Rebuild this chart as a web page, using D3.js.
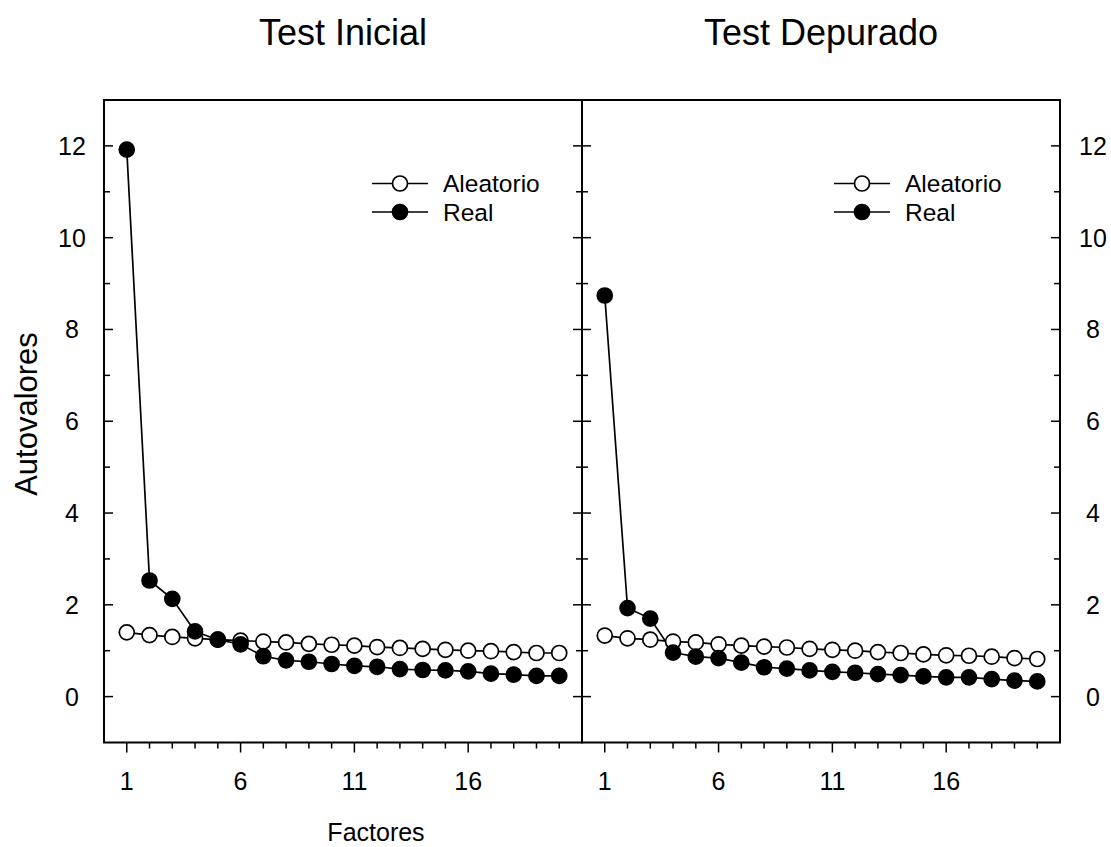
<!DOCTYPE html>
<html>
<head>
<meta charset="utf-8">
<script src="https://cdn.jsdelivr.net/npm/d3@7"></script>
<style>
  body { margin: 0; background: #fff; }
  svg text { font-family: "Liberation Sans", Arial, sans-serif; fill: #000; }
</style>
</head>
<body>
<svg width="1111" height="847"></svg>
<script>
const factors = [1, 2, 3, 4, 5, 6, 7, 8, 9, 10, 11, 12, 13, 14, 15, 16, 17, 18, 19, 20];

const inicialAleatorio = [1.40, 1.34, 1.30, 1.27, 1.24, 1.22, 1.20, 1.18, 1.15, 1.13, 1.11, 1.08, 1.06, 1.04, 1.02, 1.00, 0.99, 0.97, 0.95, 0.95];
const inicialReal = [11.92, 2.53, 2.13, 1.42, 1.24, 1.14, 0.88, 0.79, 0.76, 0.71, 0.67, 0.65, 0.60, 0.58, 0.57, 0.55, 0.50, 0.48, 0.45, 0.45];

const depuradoAleatorio = [1.33, 1.27, 1.24, 1.20, 1.18, 1.14, 1.11, 1.09, 1.07, 1.04, 1.02, 1.00, 0.97, 0.95, 0.92, 0.90, 0.89, 0.87, 0.84, 0.82];
const depuradoReal = [8.74, 1.93, 1.70, 0.96, 0.87, 0.84, 0.74, 0.64, 0.61, 0.57, 0.54, 0.52, 0.49, 0.47, 0.44, 0.42, 0.42, 0.38, 0.35, 0.33];

const titles = ["Test Inicial", "Test Depurado"];
const seriesNames = ["Aleatorio", "Real"];
const yMajorTicks = [0, 2, 4, 6, 8, 10, 12];
const yMinorTicks = [1, 3, 5, 7, 9, 11];
const xMajorTicks = [1, 6, 11, 16];

const svg = d3.select("svg");
const plotTop = 100, plotBottom = 742.5;
const panelW = 478;
const panels = [
  { x0: 104, title: titles[0], aleatorio: inicialAleatorio, real: inicialReal, side: "left", legendX: 372 },
  { x0: 582, title: titles[1], aleatorio: depuradoAleatorio, real: depuradoReal, side: "right", legendX: 834 }
];

const y = d3.scaleLinear().domain([-1, 13]).range([plotBottom, plotTop]);

panels.forEach(p => {
  const x = d3.scaleLinear().domain([0, 21]).range([p.x0, p.x0 + panelW]);
  const g = svg.append("g");

  // frame
  g.append("rect")
    .attr("x", p.x0).attr("y", plotTop)
    .attr("width", panelW).attr("height", plotBottom - plotTop)
    .attr("fill", "none").attr("stroke", "#000").attr("stroke-width", 2);

  // y ticks, inward on both sides
  [p.x0, p.x0 + panelW].forEach((xe, i) => {
    const dir = i === 0 ? 1 : -1;
    g.selectAll(null).data(yMajorTicks).enter().append("line")
      .attr("x1", xe).attr("x2", xe + dir * 9)
      .attr("y1", d => y(d)).attr("y2", d => y(d))
      .attr("stroke", "#000").attr("stroke-width", 1.5);
    g.selectAll(null).data(yMinorTicks).enter().append("line")
      .attr("x1", xe).attr("x2", xe + dir * 6)
      .attr("y1", d => y(d)).attr("y2", d => y(d))
      .attr("stroke", "#000").attr("stroke-width", 1.5);
  });

  // y tick labels on the outer side
  const labX = p.side === "left" ? 72 : 1093;
  g.selectAll(null).data(yMajorTicks).enter().append("text")
    .attr("x", labX).attr("y", d => y(d))
    .attr("dy", "0.36em")
    .attr("text-anchor", "middle")
    .style("font-size", "25px")
    .text(d => d);

  // x ticks below the frame
  g.selectAll(null).data(factors).enter().append("line")
    .attr("x1", d => x(d)).attr("x2", d => x(d))
    .attr("y1", plotBottom).attr("y2", d => plotBottom + (xMajorTicks.includes(d) ? 10 : 6))
    .attr("stroke", "#000").attr("stroke-width", 1.5);
  g.selectAll(null).data(xMajorTicks).enter().append("text")
    .attr("x", d => x(d)).attr("y", 790)
    .attr("text-anchor", "middle")
    .style("font-size", "25px")
    .text(d => d);

  // title
  g.append("text")
    .attr("x", p.x0 + panelW / 2).attr("y", 45)
    .attr("text-anchor", "middle")
    .style("font-size", "36px")
    .text(p.title);

  const line = d3.line().x((d, i) => x(factors[i])).y(d => y(d));

  [p.aleatorio, p.real].forEach(vals => {
    g.append("path")
      .datum(vals)
      .attr("d", line)
      .attr("fill", "none").attr("stroke", "#000").attr("stroke-width", 1.7);
  });
  [p.aleatorio, p.real].forEach((vals, si) => {
    g.selectAll(null).data(vals).enter().append("circle")
      .attr("cx", (d, i) => x(factors[i])).attr("cy", d => y(d))
      .attr("r", 7.5)
      .attr("fill", si === 0 ? "#fff" : "#000")
      .attr("stroke", "#000").attr("stroke-width", 1.7);
  });

  // legend
  seriesNames.forEach((name, si) => {
    const ly = 183.5 + si * 28.5;
    g.append("line")
      .attr("x1", p.legendX).attr("x2", p.legendX + 56)
      .attr("y1", ly).attr("y2", ly)
      .attr("stroke", "#000").attr("stroke-width", 1.7);
    g.append("circle")
      .attr("cx", p.legendX + 28).attr("cy", ly).attr("r", 7.5)
      .attr("fill", si === 0 ? "#fff" : "#000")
      .attr("stroke", "#000").attr("stroke-width", 1.7);
    g.append("text")
      .attr("x", p.legendX + 71).attr("y", ly)
      .attr("dy", "0.36em")
      .style("font-size", "24.5px")
      .text(name);
  });
});

// axis titles
svg.append("text")
  .attr("x", 376).attr("y", 841)
  .attr("text-anchor", "middle")
  .style("font-size", "25px")
  .text("Factores");

svg.append("text")
  .attr("transform", "translate(37,414) rotate(-90)")
  .attr("text-anchor", "middle")
  .style("font-size", "31px")
  .text("Autovalores");
</script>
</body>
</html>
